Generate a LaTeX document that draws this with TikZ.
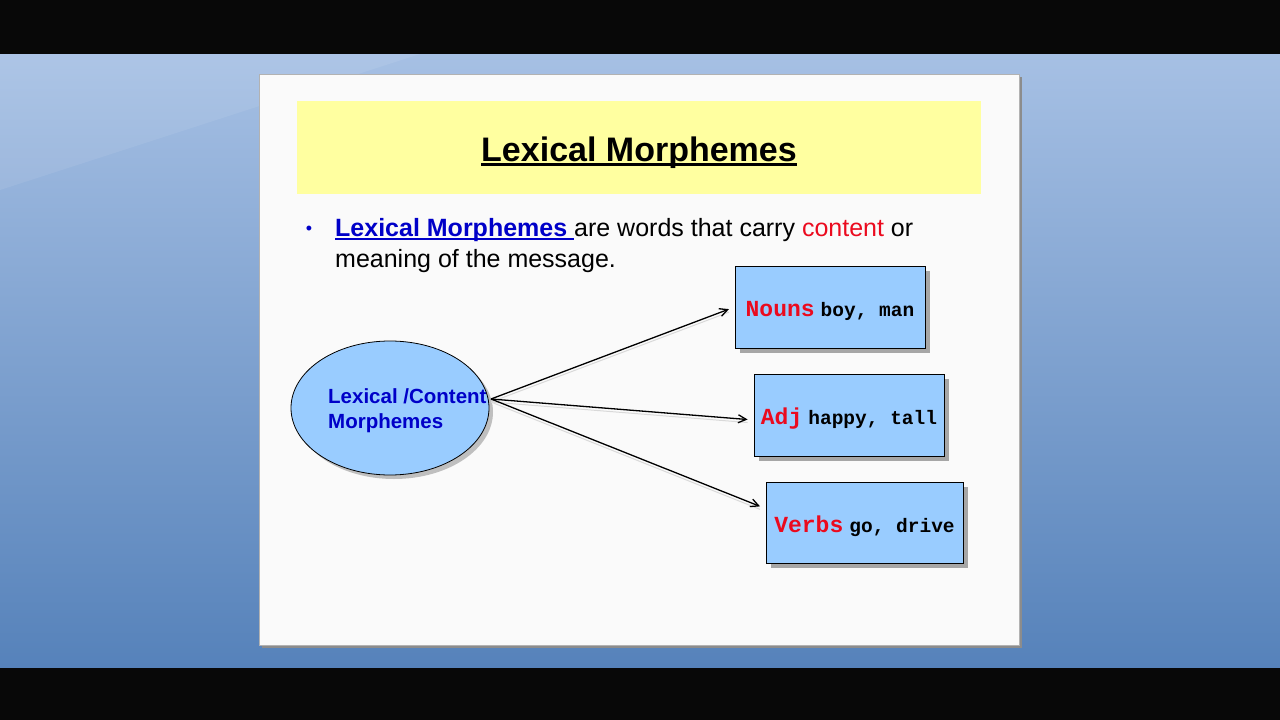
\documentclass[tikz,border=0pt]{standalone}
\usepackage{fontspec}
\setmainfont{Liberation Sans}
\newfontfamily\boxfont{Liberation Mono}
\usetikzlibrary{shapes.geometric,shadows}
\usetikzlibrary{arrows.meta,positioning}

\definecolor{boxblue}{RGB}{153,204,255}
\definecolor{titleyellow}{RGB}{255,255,160}
\definecolor{linkblue}{RGB}{0,0,200}
\definecolor{wordred}{RGB}{235,10,30}
\definecolor{bgtop}{RGB}{166,192,228}
\definecolor{bgbottom}{RGB}{86,130,186}

% underline: thickness, depth below baseline, text
\newcommand{\boldline}[3]{\sbox0{#3}\rlap{\rule[-#2]{\wd0}{#1}}\usebox0}

\begin{document}
\begin{tikzpicture}[x=1pt,y=-1pt,
	concept/.style={ellipse, draw=black, thick, fill=boxblue, minimum width=198pt, minimum height=134pt,
		drop shadow={shadow xshift=4pt, shadow yshift=-4pt, fill=black!40, opacity=0.6}},
	wordbox/.style={rectangle, draw=black, thick, fill=boxblue, minimum height=82pt,
		text height=22pt, text depth=3pt,
		drop shadow={shadow xshift=5pt, shadow yshift=-5pt, fill=black!35, opacity=1}},
	link/.style={-{Straight Barb[length=8pt,width=8pt]}, line width=1.3pt,
		preaction={draw=black!15, line width=1pt, -, transform canvas={yshift=-3pt}}}]

	% screen and slide
	\useasboundingbox (0,0) rectangle (1280,720);
	\fill[black!97] (0,0) rectangle (1280,720);
	\shade[top color=bgtop, bottom color=bgbottom] (0,54) rectangle (1280,667);
	\fill[white, opacity=0.08] (0,54) -- (420,54) -- (0,190) -- cycle;
	\fill[black!45] (262,77) rectangle (1022,648);
	\fill[black!2, draw=black!30] (259,74) rectangle (1019,645);
	\fill[titleyellow] (297,101) rectangle (981,194);

	% title and text
	\node[anchor=base, font=\fontsize{34}{40}\selectfont\bfseries] (title) at (639,161)
		{\boldline{2.6pt}{5pt}{Lexical Morphemes}};
	\node[anchor=base, text=linkblue, font=\fontsize{18}{20}\selectfont] (dot) at (309,234) {•};
	\node[anchor=base west, inner sep=0pt, font=\fontsize{25}{31}\selectfont] (intro1) at (335,236)
		{{\color{linkblue}\bfseries\boldline{1.6pt}{4pt}{Lexical Morphemes\ }}are words that carry {\color{wordred}content} or};
	\node[anchor=base west, inner sep=0pt, font=\fontsize{25}{31}\selectfont] (intro2) at (335,267)
		{meaning of the message.};

	% diagram
	\node[concept] (lex) at (390,408) {};
	\node[anchor=base west, inner sep=0pt, text=linkblue, font=\fontsize{20.5}{25}\selectfont\bfseries]
		(lextext) at (328,403) {Lexical /Content};
	\node[anchor=base west, inner sep=0pt, text=linkblue, font=\fontsize{20.5}{25}\selectfont\bfseries]
		(lextext2) at (328,428) {Morphemes};

	\node[wordbox, minimum width=190pt] (nouns) at (830,307)
		{\boxfont\bfseries{\fontsize{23}{24}\selectfont\color{wordred}Nouns} \fontsize{19.5}{24}\selectfont boy, man};
	\node[wordbox, minimum width=190pt] (adj) at (849,415)
		{\boxfont\bfseries{\fontsize{23}{24}\selectfont\color{wordred}Adj} \fontsize{19.5}{24}\selectfont happy, tall};
	\node[wordbox, minimum width=197pt, minimum height=81pt] (verbs) at (864.5,522.5)
		{\boxfont\bfseries{\fontsize{23}{24}\selectfont\color{wordred}Verbs} \fontsize{19.5}{24}\selectfont go, drive};

	\coordinate (hub) at (491,399);
	\draw[link, shorten >=6pt] (hub) -- (nouns.west);
	\draw[link, shorten >=6pt] (hub) -- (adj.183);
	\draw[link, shorten >=6pt] (hub) -- (verbs.172);
\end{tikzpicture}
\end{document}
